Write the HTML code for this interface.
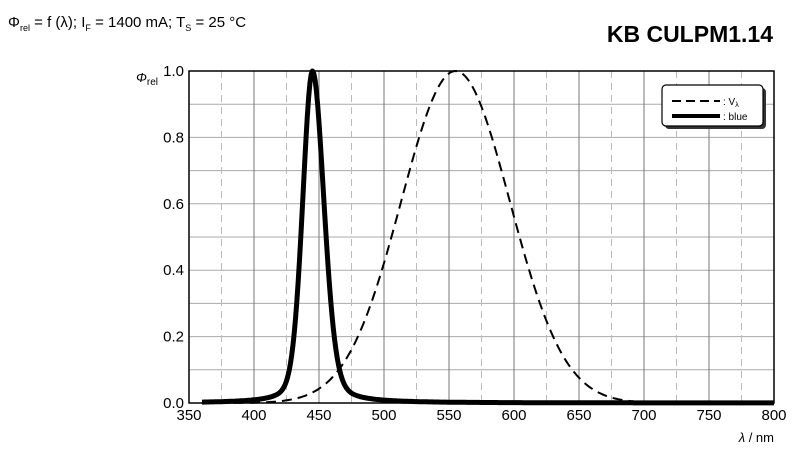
<!DOCTYPE html>
<html><head><meta charset="utf-8"><style>
body{margin:0;background:#fff;width:800px;height:449px;overflow:hidden;font-family:"Liberation Sans",Arial,sans-serif}
</style></head><body>
<svg id="s" width="800" height="449" xmlns="http://www.w3.org/2000/svg" font-family="Liberation Sans, Arial, sans-serif">
<text x="8" y="27" font-size="15">Φ<tspan font-size="9" dy="4">rel</tspan><tspan dy="-4"> = f (λ); I</tspan><tspan font-size="9" dy="4">F</tspan><tspan dy="-4"> = 1400 mA; T</tspan><tspan font-size="9" dy="4">S</tspan><tspan dy="-4"> = 25 °C</tspan></text>
<text x="773" y="42" font-size="23" font-weight="bold" text-anchor="end">KB CULPM1.14</text>
<g id="grid"></g>
<rect x="189" y="71" width="585" height="332" fill="none" stroke="#000" stroke-width="1.5"/>
<text x="136" y="82" font-size="13" font-style="italic">Φ<tspan font-size="10" font-style="normal" dy="3">rel</tspan></text>
<g id="lab" font-size="15"></g>
<text x="774" y="442" font-size="13" text-anchor="end"><tspan font-style="italic">λ</tspan> / nm</text>
<path id="v" fill="none" stroke="#000" stroke-width="2" stroke-dasharray="10,6"/>
<path id="b" fill="none" stroke="#000" stroke-width="5" stroke-linejoin="round"/>
<rect x="665" y="88" width="101" height="41" rx="4" fill="#333"/>
<rect x="662" y="85" width="101" height="41" rx="4" fill="#fff" stroke="#000" stroke-width="1.2"/>
<line x1="672" y1="101" x2="720" y2="101" stroke="#000" stroke-width="2" stroke-dasharray="9,5"/>
<line x1="672" y1="116" x2="720" y2="116" stroke="#000" stroke-width="4"/>
<text x="723" y="105" font-size="10">: V<tspan font-size="7" dy="2">λ</tspan></text>
<text x="723" y="120" font-size="10">: blue</text>
</svg>
<script>
var X=l=>189+(l-350)*1.3, Y=v=>403-v*332;
var g='',lab='';
for(var i=1;i<10;i++){g+='<line x1="189" x2="774" y1="'+Y(i/10)+'" y2="'+Y(i/10)+'" stroke="#aaa" stroke-width="1"/>';}
for(var l=375;l<800;l+=25){var x=X(l);g+='<line x1="'+x+'" x2="'+x+'" y1="71" y2="403" stroke="'+(l%50?'#bbb':'#777')+'" stroke-width="1"'+(l%50?' stroke-dasharray="7,5"':'')+'/>';}
document.getElementById('grid').innerHTML=g;
for(var l=350;l<=800;l+=50)lab+='<text x="'+X(l)+'" y="420" text-anchor="middle">'+l+'</text>';
for(var i=0;i<=5;i++)lab+='<text x="184" y="'+(Y(i/5)+5)+'" text-anchor="end">'+(i/5).toFixed(1)+'</text>';
document.getElementById('lab').innerHTML=lab;
var pv='',pb='';
for(var l=360;l<=800;l+=1){
 var u=l/1000, V=Math.exp(-285.4*(u-0.555)*(u-0.555));
 if(l<=780) pv+=(l==360?'M':'L')+X(l).toFixed(1)+','+Y(V).toFixed(1);
 var d=l-445, w=d<0?9:10.5;
 var B=0.75*Math.exp(-0.693*d*d/(w*w))+0.25/(1+d*d/(w*w));
 pb+=(l==360?'M':'L')+X(l).toFixed(1)+','+Y(B).toFixed(1);
}
document.getElementById('v').setAttribute('d',pv);
document.getElementById('b').setAttribute('d',pb);
</script>
</body></html>
